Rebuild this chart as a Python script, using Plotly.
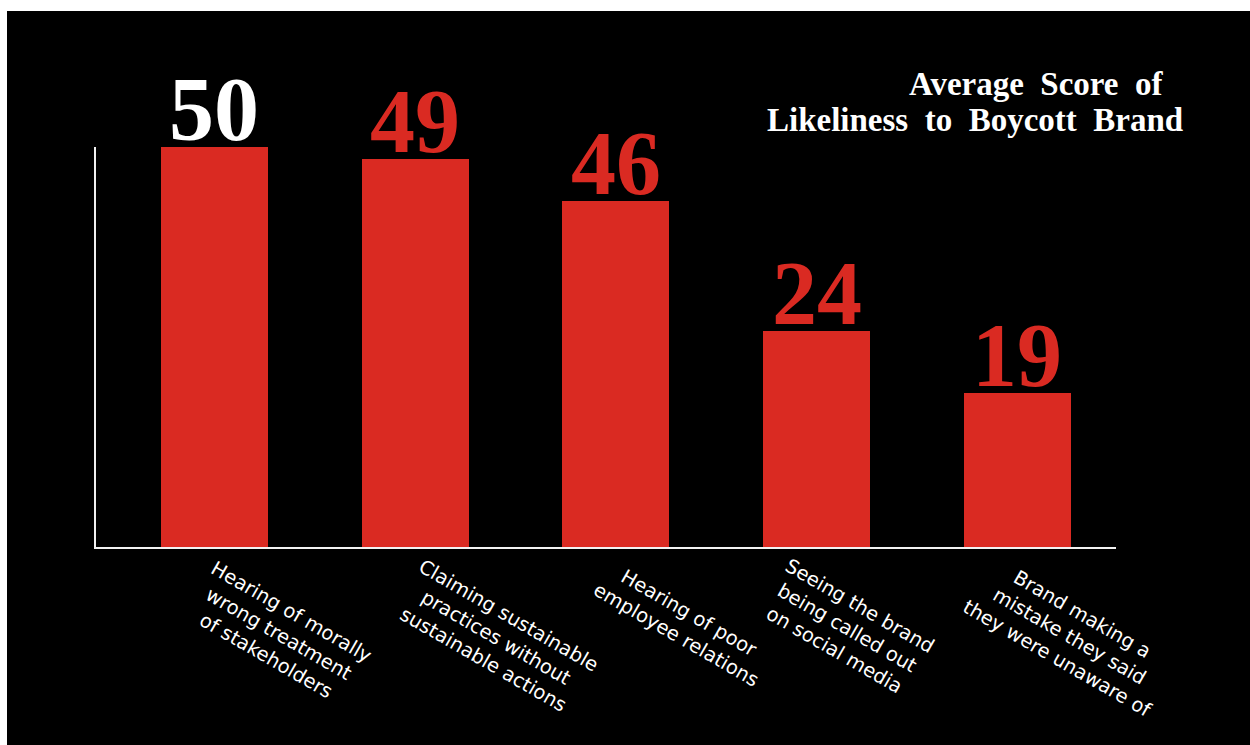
import plotly.graph_objects as go

# ---- data ----
categories = [
    "Hearing of morally<br>wrong treatment<br>of stakeholders",
    "Claiming sustainable<br>practices without<br>sustainable actions",
    "Hearing of poor<br>employee relations",
    "Seeing the brand<br>being called out<br>on social media",
    "Brand making a<br>mistake they said<br>they were unaware of",
]
bar_heights = [50, 48.5, 43.3, 27.0, 19.3]   # bar lengths as drawn
score_labels = ["50", "49", "46", "24", "19"]  # printed scores
title_lines = ["Average\u00a0 Score\u00a0 of", "Likeliness\u00a0 to\u00a0 Boycott\u00a0 Brand"]

# ---- styling / layout constants ----
W, H = 1250, 745
L, R, T, B = 96, 134, 147, 198
RED = "#DA2A22"
x_pos = list(range(len(categories)))
label_dx = [64, 81, 67, 30, 53]
label_dy = [-87, -91, -77, -81, -90]
num_colors = ["white", RED, RED, RED, RED]

fig = go.Figure()
fig.add_trace(go.Bar(
    x=x_pos, y=bar_heights, width=0.533,
    marker=dict(color=RED, line=dict(width=0)),
    hoverinfo="skip",
))

pw = W - L - R
ph = H - T - B
def px2paper_x(px):
    return (px - L) / pw
def py2paper_y(py):
    return (H - B - py) / ph

annotations = []
for i, (h, lab, col) in enumerate(zip(bar_heights, score_labels, num_colors)):
    annotations.append(dict(
        x=x_pos[i], y=h, xref="x", yref="y", text=lab, showarrow=False,
        xanchor="center", yanchor="bottom", yshift=-14,
        font=dict(family="Liberation Serif", size=90, color=col, weight="bold"),
    ))
for i, cat in enumerate(categories):
    annotations.append(dict(
        x=x_pos[i], y=0, xref="x", yref="paper", text=cat, showarrow=False,
        textangle=30, align="center", xanchor="center", yanchor="middle",
        xshift=label_dx[i], yshift=label_dy[i],
        font=dict(family="DejaVu Sans", size=19.5, color="white"),
    ))
annotations.append(dict(
    x=px2paper_x(1166), y=py2paper_y(84), xref="paper", yref="paper",
    text=title_lines[0], showarrow=False, xanchor="right", yanchor="middle",
    font=dict(family="Liberation Serif", size=33, color="white", weight="bold"),
))
annotations.append(dict(
    x=px2paper_x(1185), y=py2paper_y(120), xref="paper", yref="paper",
    text=title_lines[1], showarrow=False, xanchor="right", yanchor="middle",
    font=dict(family="Liberation Serif", size=33, color="white", weight="bold"),
))

shapes = [dict(
    type="rect", xref="paper", yref="paper", layer="below",
    x0=px2paper_x(7), x1=px2paper_x(W + 5), y0=py2paper_y(H + 5), y1=py2paper_y(11),
    fillcolor="black", line=dict(width=0),
)]

fig.update_layout(
    width=W, height=H,
    margin=dict(l=L, r=R, t=T, b=B, pad=0),
    paper_bgcolor="white", plot_bgcolor="black",
    showlegend=False,
    bargap=0,
    xaxis=dict(range=[-0.5904, 4.492], showticklabels=False, ticks="",
               showgrid=False, zeroline=False, showline=True,
               linecolor="#F2F2F2", linewidth=2, fixedrange=True),
    yaxis=dict(range=[0, 50], showticklabels=False, ticks="",
               showgrid=False, zeroline=False, showline=True,
               linecolor="#F2F2F2", linewidth=2, fixedrange=True),
    annotations=annotations,
    shapes=shapes,
)
fig.write_html("out.html", config={"displayModeBar": False})
